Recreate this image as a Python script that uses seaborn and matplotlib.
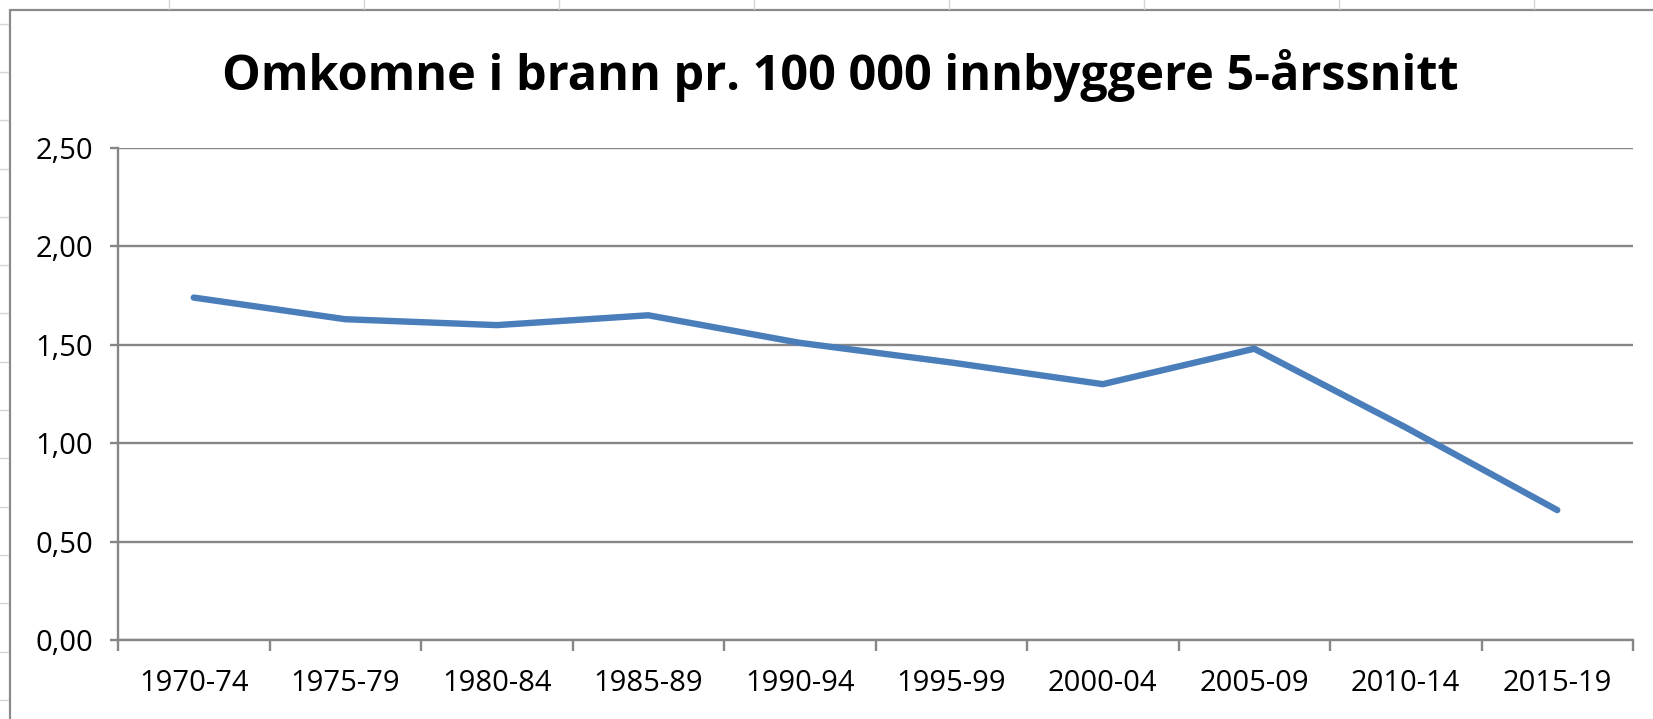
import matplotlib
matplotlib.use("Agg")
import matplotlib.pyplot as plt
import seaborn as sns
import pandas as pd
from matplotlib.lines import Line2D
from matplotlib.ticker import FuncFormatter, FixedLocator

# ---- data ----
periods = ["1970-74", "1975-79", "1980-84", "1985-89", "1990-94",
           "1995-99", "2000-04", "2005-09", "2010-14", "2015-19"]
deaths_per_100k = [1.74, 1.63, 1.60, 1.65, 1.51, 1.41, 1.30, 1.48, 1.08, 0.66]
y_ticks = [0.0, 0.5, 1.0, 1.5, 2.0, 2.5]
title = "Omkomne i brann pr. 100 000 innbyggere 5-årssnitt"

df = pd.DataFrame({"pos": range(len(periods)), "periode": periods, "verdi": deaths_per_100k})

sns.set_theme(style="white")
plt.rcParams["font.family"] = ["Open Sans", "DejaVu Sans"]

W, H = 1653, 719
fig = plt.figure(figsize=(W / 100, H / 100), dpi=100)
fig.patch.set_facecolor("white")

L, R, T, B = 118, 1633, 148, 640
ax = fig.add_axes([L / W, (H - B) / H, (R - L) / W, (B - T) / H])

sns.lineplot(data=df, x="pos", y="verdi", ax=ax, color="#4a7ebb", linewidth=4.6,
             solid_capstyle="round", solid_joinstyle="miter")

grid_c = "#868686"
ax.set_xlim(-0.5, len(periods) - 0.5)
ax.set_ylim(0, 2.5)
ax.set_yticks(y_ticks)
ax.yaxis.set_major_formatter(FuncFormatter(lambda v, p: f"{v:.2f}".replace(".", ",")))
ax.set_xticks(range(len(periods)))
ax.set_xticklabels(periods)
ax.xaxis.set_minor_locator(FixedLocator([i - 0.5 for i in range(len(periods) + 1)]))
ax.grid(axis="y", color=grid_c, linewidth=1.7)
ax.set_axisbelow(True)
ax.set_xlabel("")
ax.set_ylabel("")

for s in ["top", "right"]:
    ax.spines[s].set_visible(False)
for s in ["left", "bottom"]:
    ax.spines[s].set_visible(True)
    ax.spines[s].set_color(grid_c)
    ax.spines[s].set_linewidth(1.7)

ax.tick_params(axis="y", which="major", direction="out", length=6, width=1.7, color=grid_c,
               labelsize=21, pad=12, labelcolor="black", left=True)
ax.tick_params(axis="x", which="major", length=0, labelsize=21, pad=21, labelcolor="black")
ax.tick_params(axis="x", which="minor", direction="out", length=8, width=1.7, color=grid_c, bottom=True)

fig.text(840 / W, 1 - 75 / H, title, ha="center", va="center", fontsize=35,
         fontweight="bold", color="black")

# chart frame and surrounding spreadsheet lines
frame_c = "#8a8a8a"
fig.add_artist(Line2D([10 / W, 10 / W], [0, 1 - 10 / H], transform=fig.transFigure,
                      color=frame_c, linewidth=1.6))
fig.add_artist(Line2D([10 / W, 1], [1 - 10 / H, 1 - 10 / H], transform=fig.transFigure,
                      color=frame_c, linewidth=1.6))
for xc in [169, 364, 559, 754, 949, 1144, 1339, 1534]:
    fig.add_artist(Line2D([xc / W, xc / W], [1, 1 - 9 / H], transform=fig.transFigure,
                          color="#d4d4d4", linewidth=1))
for yr in [24, 72, 120, 169, 217, 265, 313, 362, 410, 458, 507, 555, 603, 652, 700]:
    fig.add_artist(Line2D([0, 8 / W], [1 - yr / H, 1 - yr / H], transform=fig.transFigure,
                          color="#d4d4d4", linewidth=1))

fig.savefig("out.png", dpi=100, facecolor="white")
